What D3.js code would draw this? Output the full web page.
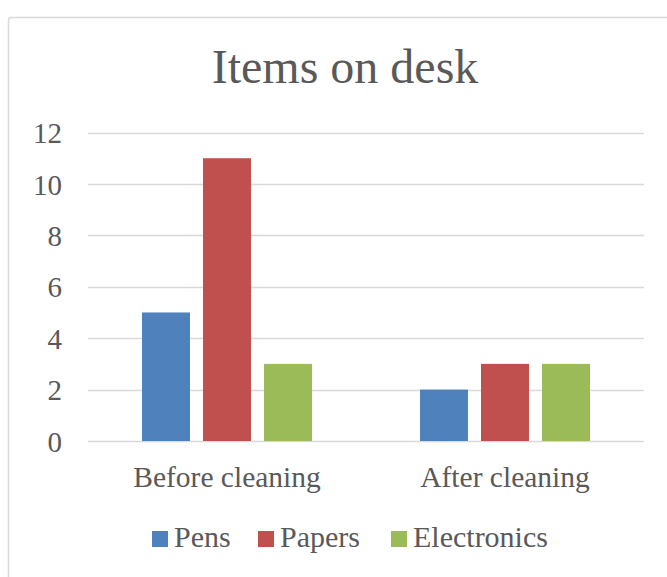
<!DOCTYPE html>
<html><head><meta charset="utf-8">
<script src="https://cdn.jsdelivr.net/npm/d3@7"></script>
<style>html,body{margin:0;padding:0;background:#fff;}svg{display:block;}</style>
</head><body>
<svg id="c" width="667" height="577"></svg>
<script>
const categories = ["Before cleaning", "After cleaning"];
const seriesNames = ["Pens", "Papers", "Electronics"];
const pens = [5, 2];
const papers = [11, 3];
const electronics = [3, 3];
const yTicks = [0, 2, 4, 6, 8, 10, 12];
const colors = ["#4f81bd", "#c0504d", "#9bbb59"];
const seriesValues = [pens, papers, electronics];

(function () {
const svg = d3.select("#c");
const font = "'Liberation Serif', serif";
const textColor = "#595959";

// chart border
svg.append("rect").attr("x", 8.5).attr("y", 17.5).attr("width", 700).attr("height", 600)
  .attr("rx", 3).attr("fill", "#fff").attr("stroke", "#d9d9d9").attr("stroke-width", 1.5);

const pl = 88, pr = 644, pt = 132.5, pb = 441;
const y = d3.scaleLinear().domain([0, 12]).range([pb, pt]);
const x0 = d3.scaleBand().domain(categories).range([pl, pr]).padding(0);
const x1 = d3.scaleBand().domain(seriesNames).range([0, x0.bandwidth()]).paddingInner(0.213).paddingOuter(0.885);

// gridlines
svg.append("g").selectAll("line").data(yTicks).join("line")
  .attr("x1", pl).attr("x2", pr)
  .attr("y1", d => Math.round(y(d)) + 0.5).attr("y2", d => Math.round(y(d)) + 0.5)
  .attr("stroke", "#d9d9d9").attr("stroke-width", 1.5);

// y axis labels
const yAxis = svg.append("g").attr("transform", `translate(62,0)`)
  .call(d3.axisLeft(y).tickValues(yTicks).tickSize(0).tickPadding(0));
yAxis.select(".domain").remove();
yAxis.selectAll("text").attr("font-family", font).attr("font-size", 29).attr("fill", textColor).attr("dy", "0.35em");

// bars
const data = [];
categories.forEach((c, i) => seriesNames.forEach((s, j) => data.push({c, s, v: seriesValues[j][i], j})));
svg.append("g").selectAll("rect").data(data).join("rect")
  .attr("x", d => x0(d.c) + x1(d.s))
  .attr("width", x1.bandwidth())
  .attr("y", d => y(d.v))
  .attr("height", d => y(0) - y(d.v))
  .attr("fill", d => colors[d.j]);

// x axis labels
const xAxis = svg.append("g").attr("transform", `translate(0,${pb})`)
  .call(d3.axisBottom(x0).tickSize(0).tickPadding(0));
xAxis.select(".domain").remove();
xAxis.selectAll("text").attr("font-family", font).attr("font-size", 29.5).attr("fill", textColor)
  .attr("y", 46).attr("dy", 0);

// title
svg.append("text").attr("x", 345).attr("y", 83).attr("text-anchor", "middle")
  .attr("font-family", font).attr("font-size", 48).attr("fill", textColor).text("Items on desk");

// legend
const legendX = [152, 258, 391];
const lg = svg.append("g").selectAll("g").data(seriesNames).join("g")
  .attr("transform", (d, i) => `translate(${legendX[i]},531)`);
lg.append("rect").attr("width", 16).attr("height", 16).attr("fill", (d, i) => colors[i]);
lg.append("text").attr("x", 22).attr("y", 16).attr("font-family", font).attr("font-size", 30)
  .attr("fill", textColor).text(d => d);
})();
</script>
</body></html>
